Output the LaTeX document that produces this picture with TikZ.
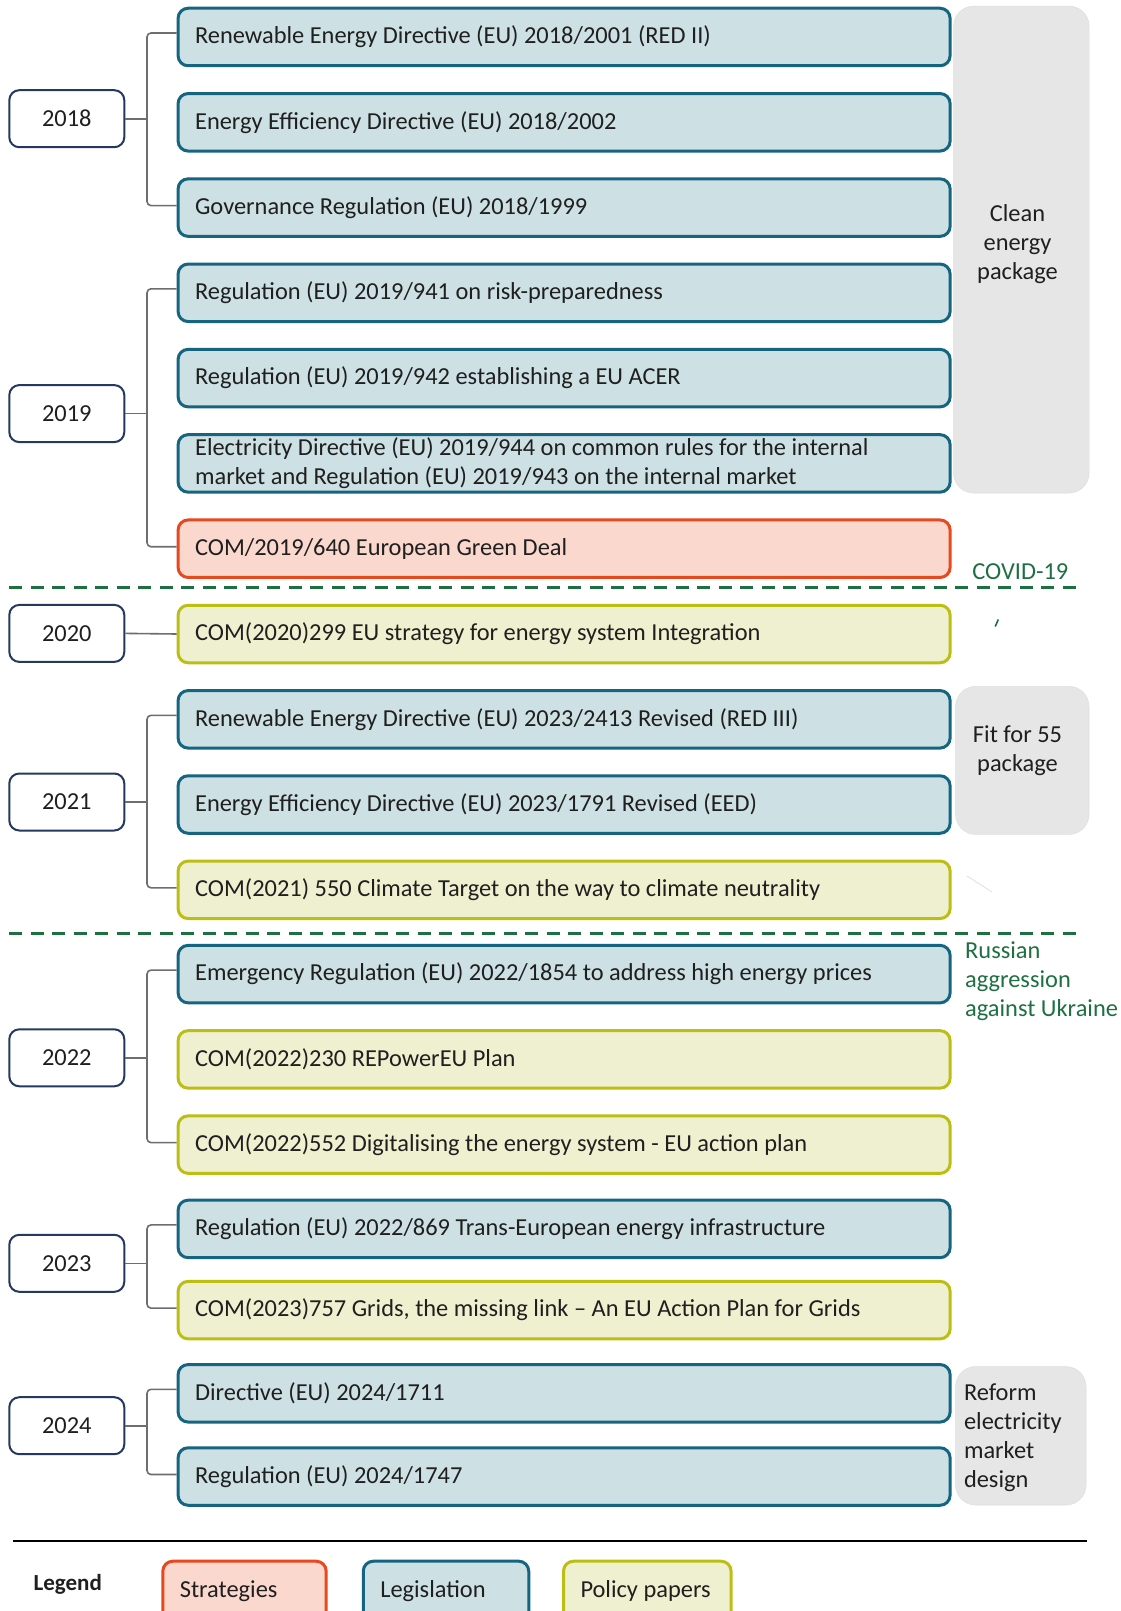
\documentclass[tikz,border=0pt]{standalone}
\usepackage{fontspec}
\setmainfont{Carlito}
\definecolor{legfill}{RGB}{205,224,228}
\definecolor{legdraw}{RGB}{22,101,128}
\definecolor{strfill}{RGB}{250,216,206}
\definecolor{strdraw}{RGB}{232,72,30}
\definecolor{polfill}{RGB}{238,240,207}
\definecolor{poldraw}{RGB}{188,190,20}
\definecolor{navy}{RGB}{36,56,96}
\definecolor{evgreen}{RGB}{30,112,66}
\definecolor{grpfill}{RGB}{230,230,230}
\definecolor{brkgray}{RGB}{110,110,110}
\begin{document}
\begin{tikzpicture}[x=1pt,y=-1pt,
  every node/.style={font=\fontsize{24.4}{29}\selectfont, text=black!88,
    execute at begin node={\spaceskip=0pt\xspaceskip=0pt\relax}},
  box/.style={rounded corners=10pt, line width=3pt, minimum height=57.5pt,
    text width=738pt, inner xsep=17pt, inner ysep=2pt, align=left},
  legbox/.style={box, draw=legdraw, fill=legfill},
  strbox/.style={box, draw=strdraw, fill=strfill},
  polbox/.style={box, draw=poldraw, fill=polfill},
  yearbox/.style={draw=navy, fill=white, line width=2pt, rounded corners=10pt,
    minimum width=115pt, minimum height=57pt, inner sep=0pt},
  grp/.style={fill=grpfill, draw=black!12, line width=0.6pt, rounded corners=20pt, inner sep=0pt},
  brk/.style={draw=brkgray, line width=1.6pt, rounded corners=4pt},
  sep/.style={draw=evgreen, line width=3pt, dash pattern=on 13pt off 8.5pt},
  evt/.style={text=evgreen},
  lkey/.style={rounded corners=10pt, line width=3pt, minimum height=60pt, inner xsep=17pt,
    inner ysep=0pt, align=left, anchor=north}
]
\clip (0,0) rectangle (1121,1611);
\fill[white] (0,0) rectangle (1121,1611);

% group backgrounds
\node[grp, minimum width=135.5pt, minimum height=486.8pt] (gclean) at (1021.3,249.6) {};
\node[grp, minimum width=133.4pt, minimum height=148pt] (gfit) at (1022.3,760.4) {};
\node[grp, minimum width=130.4pt, minimum height=138.4pt] (greform) at (1020.8,1435.8) {};
\node[align=center] (tclean) at (1017.5,244) {Clean\\energy\\package};
\node[align=center] (tfit) at (1017.5,751) {Fit for 55\\package};
\node[align=left, anchor=west, inner sep=0pt] (treform) at (963.8,1438) {Reform\\electricity\\market\\design};

% main boxes
\node[legbox] (b1) at (564.1,37.0) {Renewable Energy Directive (EU) 2018/2001 (RED II)};
\node[legbox] (b2) at (564.1,122.3) {Energy Efficiency Directive (EU) 2018/2002};
\node[legbox] (b3) at (564.1,207.6) {Governance Regulation (EU) 2018/1999};
\node[legbox] (b4) at (564.1,292.8) {Regulation (EU) 2019/941 on risk-preparedness};
\node[legbox] (b5) at (564.1,378.1) {Regulation (EU) 2019/942 establishing a EU ACER};
\node[legbox] (b6) at (564.1,463.4) {Electricity Directive (EU) 2019/944 on common rules for the internal\\market and Regulation (EU) 2019/943 on the internal market};
\node[strbox] (b7) at (564.1,548.7) {COM/2019/640 European Green Deal};
\node[polbox] (b8) at (564.1,634.0) {COM(2020)299 EU strategy for energy system Integration};
\node[legbox] (b9) at (564.1,719.3) {Renewable Energy Directive (EU) 2023/2413 Revised (RED III)};
\node[legbox] (b10) at (564.1,804.5) {Energy Efficiency Directive (EU) 2023/1791 Revised (EED)};
\node[polbox] (b11) at (564.1,889.8) {COM(2021) 550 Climate Target on the way to climate neutrality};
\node[legbox] (b12) at (564.1,974.1) {Emergency Regulation (EU) 2022/1854 to address high energy prices};
\node[polbox] (b13) at (564.1,1059.4) {COM(2022)230 REPowerEU Plan};
\node[polbox] (b14) at (564.1,1144.6) {COM(2022)552 Digitalising the energy system - EU action plan};
\node[legbox] (b15) at (564.1,1228.9) {Regulation (EU) 2022/869 Trans-European energy infrastructure};
\node[polbox] (b16) at (564.1,1310.1) {COM(2023)757 Grids, the missing link -- An EU Action Plan for Grids};
\node[legbox] (b17) at (564.1,1393.3) {Directive (EU) 2024/1711};
\node[legbox] (b18) at (564.1,1476.5) {Regulation (EU) 2024/1747};

% year boxes
\node[yearbox] (y18) at (66.8,118.7) {2018};
\node[yearbox] (y19) at (66.8,413.6) {2019};
\node[yearbox] (y20) at (66.8,633.4) {2020};
\node[yearbox] (y21) at (66.8,802.0) {2021};
\node[yearbox] (y22) at (66.8,1057.8) {2022};
\node[yearbox] (y23) at (66.8,1263.3) {2023};
\node[yearbox] (y24) at (66.8,1425.7) {2024};

% brackets
\coordinate (bx) at (147,0);
\foreach \y/\a/\z in {y18/b1/b3, y19/b4/b7, y21/b9/b11, y22/b12/b14, y23/b15/b16, y24/b17/b18}{
  \draw[brk] ([yshift=4pt]\a.west) -- ([yshift=4pt]\a.west -| bx) -- ([yshift=2pt]\z.west -| bx) -- ([yshift=2pt]\z.west);
  \draw[brk] (\y.east) -- (\y.east -| bx);
}
\draw[brk] (y20.east) -- (b8.west);

% event separators
\coordinate (s1a) at (9.2,587.7);
\coordinate (s1b) at (1081,587.7);
\coordinate (s2a) at (9.2,933);
\coordinate (s2b) at (1081,933);
\draw[sep] (s1a) -- (s1b);
\draw[sep] (s2a) -- (s2b);
\node[evt] (covid) at (1020.3,572) {COVID-19};
\node[evt, align=left, anchor=west, inner sep=0pt] (russia) at (965,981) {Russian\\aggression\\against Ukraine};
\coordinate (tk1) at (995.2,626.5);
\coordinate (tk2) at (998.3,619.5);
\draw[evgreen, line width=1.6pt] (tk1) -- (tk2);
\coordinate (ar1) at (967,876);
\coordinate (ar2) at (992,892);
\draw[black!15, line width=0.6pt] (ar1) -- (ar2);

% legend
\coordinate (la) at (13.4,1541);
\coordinate (lb) at (1087,1541);
\draw[black, line width=2pt] (la) -- (lb);
\node[font=\fontsize{23}{28}\selectfont\bfseries] (legend) at (67.8,1584.5) {Legend};
\node[lkey, draw=strdraw, fill=strfill, text width=129.4pt] (kstr) at (244.5,1559.7) {Strategies};
\node[lkey, draw=legdraw, fill=legfill, text width=131.5pt] (kleg) at (446,1559.7) {Legislation};
\node[lkey, draw=poldraw, fill=polfill, text width=133.6pt] (kpol) at (647.3,1559.7) {Policy papers};
\end{tikzpicture}
\end{document}
